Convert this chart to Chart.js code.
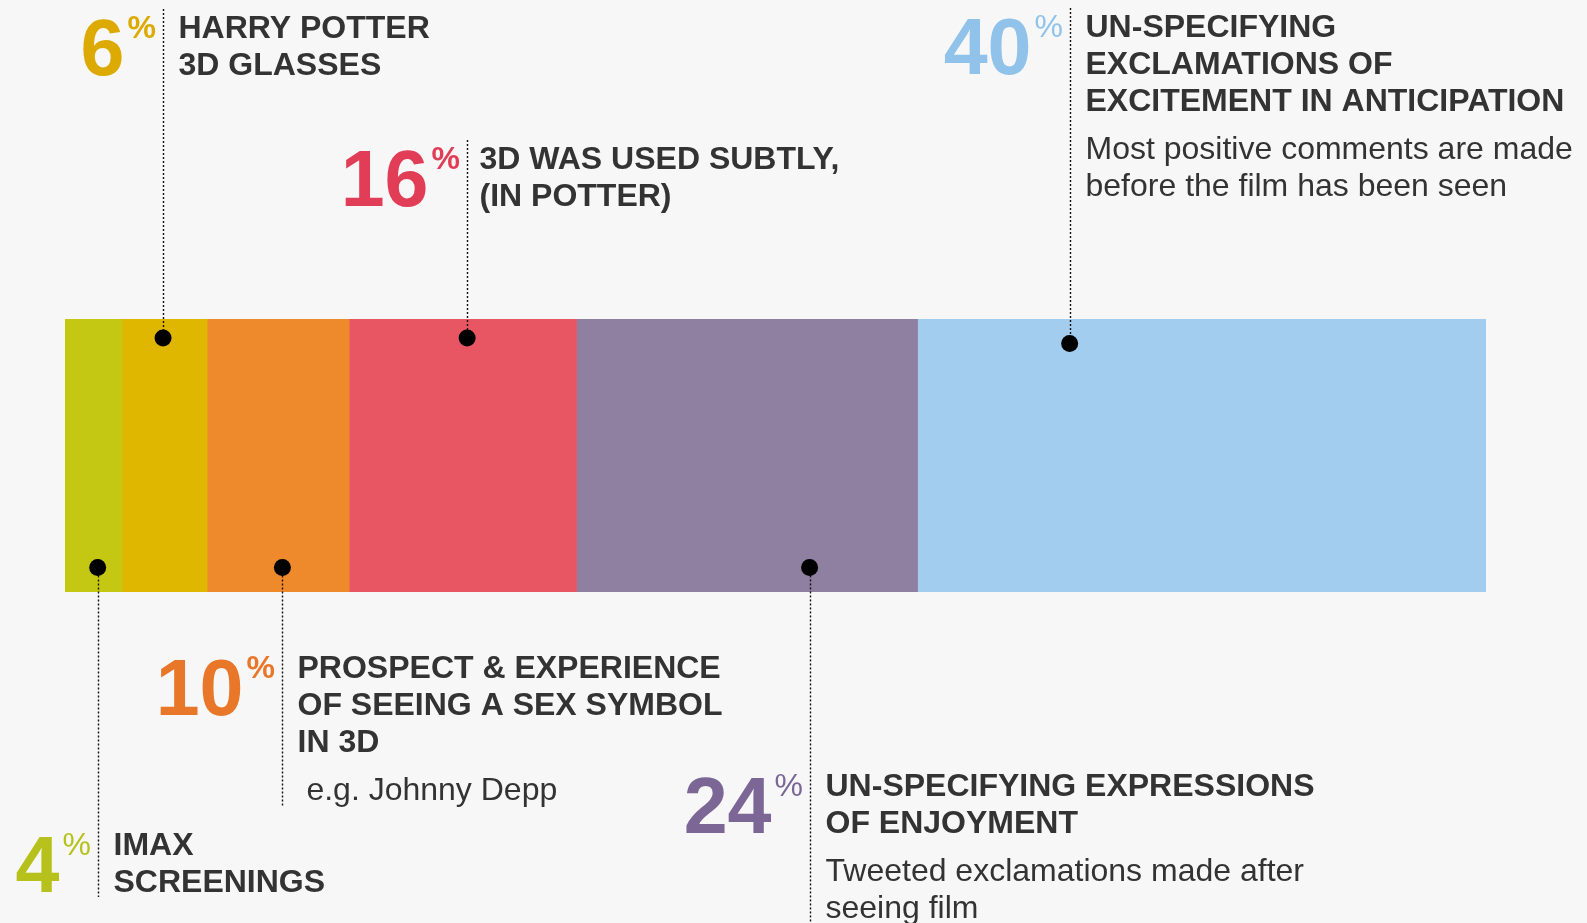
<!DOCTYPE html>
<html>
<head>
<meta charset="utf-8">
<script src="https://cdn.jsdelivr.net/npm/chart.js@4/dist/chart.umd.min.js"></script>
<style>
  html, body { margin: 0; padding: 0; background: #f7f7f7; }
  #wrap { width: 1587px; height: 923px; }
</style>
</head>
<body>
<div id="wrap"><canvas id="chartShare" width="1587" height="923"></canvas></div>
<script>
/* Reparto de tuits sobre 3D: barra apilada única con llamadas */

const categories = [
  'IMAX screenings',
  'Harry Potter 3D glasses',
  'Prospect & experience of seeing a sex symbol in 3D',
  '3D was used subtly (in Potter)',
  'Un-specifying expressions of enjoyment',
  'Un-specifying exclamations of excitement in anticipation',
];
const shares = [4, 6, 10, 16, 24, 40];

const headings = [
  ['IMAX', 'SCREENINGS'],
  ['HARRY POTTER', '3D GLASSES'],
  ['PROSPECT & EXPERIENCE', 'OF SEEING A SEX SYMBOL', 'IN 3D'],
  ['3D WAS USED SUBTLY,', '(IN POTTER)'],
  ['UN-SPECIFYING EXPRESSIONS', 'OF ENJOYMENT'],
  ['UN-SPECIFYING', 'EXCLAMATIONS OF', 'EXCITEMENT IN ANTICIPATION'],
];
const notes = [
  [],
  [],
  [' e.g. Johnny Depp'],
  [],
  ['Tweeted exclamations made after', 'seeing film'],
  ['Most positive comments are made', 'before the film has been seen'],
];

// posición de los puntos negros (unidades del eje: % acumulado, y 0..1 en la barra)
const dotX = [2.3, 6.9, 15.3, 28.3, 52.4, 70.7];
const dotY = [0.09, 0.93, 0.09, 0.93, 0.09, 0.91];

const BAR_COLORS = ['#c5c812', '#e0b700', '#ee8a2c', '#e85664', '#8f7fa0', '#a2cdee'];
const NUM_COLORS = ['#b7c11c', '#dcaa00', '#e8772a', '#e23d56', '#7b6696', '#90c2ea'];

// colocación de cada llamada (línea base del primer renglón)
const CALLOUTS = [
  { side: 'below', base: 855, lineEnd: 897, pctBold: false, textDx: 15 },
  { side: 'above', base: 38,  pctBold: true,  textDx: 15 },
  { side: 'below', base: 678, lineEnd: 807, pctBold: true,  textDx: 15 },
  { side: 'above', base: 169, pctBold: true,  textDx: 12 },
  { side: 'below', base: 796, lineEnd: 923, pctBold: false, textDx: 15 },
  { side: 'above', base: 37,  pctBold: false, textDx: 15 },
];

const FONT = '"Liberation Sans", Arial, sans-serif';
const TEXT_COLOR = '#333333';
const LINE_STEP = 37;

function dotPixel(chart, i) {
  return {
    x: Math.round(chart.scales.x.getPixelForValue(dotX[i])) + 0.5,
    y: chart.scales.yd.getPixelForValue(dotY[i]),
  };
}

const calloutPlugin = {
  id: 'callouts',
  beforeDatasetDraw(chart, args) {
    if (args.meta.type !== 'scatter') return;
    const ctx = chart.ctx;
    ctx.save();
    ctx.strokeStyle = '#111';
    ctx.lineWidth = 1.4;
    ctx.setLineDash([2, 2]);
    CALLOUTS.forEach((c, i) => {
      const p = dotPixel(chart, i);
      const from = c.side === 'above' ? c.base - 29 : p.y;
      const to   = c.side === 'above' ? p.y : c.lineEnd;
      ctx.beginPath();
      ctx.moveTo(p.x, from);
      ctx.lineTo(p.x, to);
      ctx.stroke();
    });
    ctx.restore();
  },
  afterDraw(chart) {
    const ctx = chart.ctx;
    ctx.save();
    ctx.textBaseline = 'alphabetic';
    CALLOUTS.forEach((c, i) => {
      const lx = dotPixel(chart, i).x;

      // número grande
      ctx.fillStyle = NUM_COLORS[i];
      ctx.textAlign = 'right';
      ctx.font = `bold 79px ${FONT}`;
      ctx.fillText(String(shares[i]), lx - 39, c.base + LINE_STEP);

      // signo %
      ctx.textAlign = 'left';
      ctx.font = `${c.pctBold ? 'bold ' : ''}32px ${FONT}`;
      ctx.fillText('%', lx - 36, c.base);

      // titular
      ctx.fillStyle = TEXT_COLOR;
      ctx.font = `bold 32px ${FONT}`;
      headings[i].forEach((t, k) => ctx.fillText(t, lx + c.textDx, c.base + k * LINE_STEP));

      // nota
      const last = c.base + (headings[i].length - 1) * LINE_STEP;
      ctx.font = `32px ${FONT}`;
      notes[i].forEach((t, k) => ctx.fillText(t, lx + c.textDx, last + 48 + k * LINE_STEP));
    });
    ctx.restore();
  },
};

const datasets = shares.map((v, i) => ({
  type: 'bar',
  label: categories[i],
  data: [v],
  indexAxis: 'y',
  xAxisID: 'x',
  yAxisID: 'y',
  stack: 'total',
  backgroundColor: BAR_COLORS[i],
  borderWidth: 0,
  barPercentage: 1,
  categoryPercentage: 1,
  order: 1,
}));

datasets.push({
  type: 'scatter',
  label: 'dots',
  data: dotX.map((x, i) => ({ x, y: dotY[i] })),
  xAxisID: 'x',
  yAxisID: 'yd',
  stack: 'dots',
  pointRadius: 8.5,
  pointHoverRadius: 8.5,
  pointBackgroundColor: '#000',
  pointBorderWidth: 0,
  order: 0,
  clip: false,
});

new Chart(document.getElementById('chartShare'), {
  data: { labels: ['share'], datasets },
  options: {
    responsive: false,
    animation: false,
    layout: { padding: { left: 65, right: 101, top: 319, bottom: 331 } },
    scales: {
      x:  { type: 'linear', min: 0, max: 100, stacked: true, display: false },
      y:  { type: 'category', stacked: true, display: false },
      yd: { type: 'linear', min: 0, max: 1, display: false },
    },
    plugins: {
      legend:  { display: false },
      tooltip: { enabled: false },
    },
  },
  plugins: [calloutPlugin],
});
</script>
</body>
</html>
